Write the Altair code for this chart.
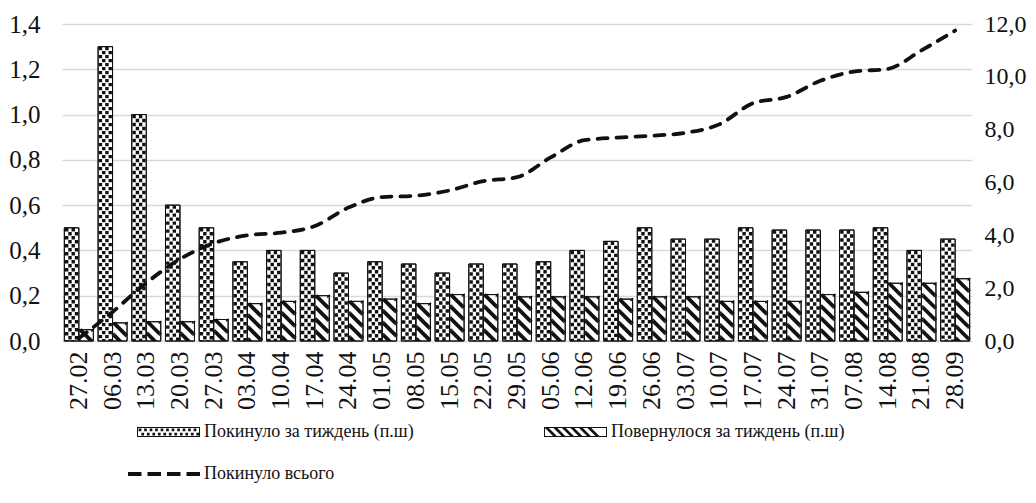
import altair as alt
import pandas as pd

# ---------------- data ----------------
dates = ["27.02", "06.03", "13.03", "20.03", "27.03", "03.04", "10.04", "17.04", "24.04",
         "01.05", "08.05", "15.05", "22.05", "29.05", "05.06", "12.06", "19.06", "26.06",
         "03.07", "10.07", "17.07", "24.07", "31.07", "07.08", "14.08", "21.08", "28.09"]
left_weekly = [0.50, 1.30, 1.00, 0.60, 0.50, 0.35, 0.40, 0.40, 0.30,
               0.35, 0.34, 0.30, 0.34, 0.34, 0.35, 0.40, 0.44, 0.50,
               0.45, 0.45, 0.50, 0.49, 0.49, 0.49, 0.50, 0.40, 0.45]
returned_weekly = [0.05, 0.08, 0.085, 0.085, 0.095, 0.165, 0.175, 0.20, 0.175,
                   0.185, 0.165, 0.205, 0.205, 0.195, 0.195, 0.195, 0.185, 0.195,
                   0.195, 0.175, 0.175, 0.175, 0.205, 0.215, 0.255, 0.255, 0.275]
left_total = [0.1, 1.1, 2.2, 3.1, 3.7, 4.0, 4.1, 4.35, 5.05,
              5.45, 5.5, 5.7, 6.05, 6.2, 6.95, 7.6, 7.7, 7.77,
              7.88, 8.2, 9.0, 9.24, 9.85, 10.2, 10.3, 11.0, 11.75]

S1 = "Покинуло за тиждень (п.ш)"
S2 = "Повернулося за тиждень (п.ш)"
S3 = "Покинуло всього"

left_ticks = [0, 0.2, 0.4, 0.6, 0.8, 1.0, 1.2, 1.4]
right_ticks = [0, 2, 4, 6, 8, 10, 12]

# ---------------- style constants ----------------
PLOT_W, PLOT_H = 910, 317
Y_MAX, Y2_MAX = 1.4, 12
PX = PLOT_H / Y_MAX          # pixels per unit on the left axis
FONT = "Liberation Serif"
INK = "#111111"
X_FS = 26
Y_FS = 25
Y2_FS = 24
LEG_FS = 18

bars_df = pd.DataFrame({
    "date": dates * 2,
    "series": [S1] * len(dates) + [S2] * len(dates),
    "value": left_weekly + returned_weekly,
})
line_df = pd.DataFrame({"date": dates, "total": left_total, "series": S3})
legend_df = pd.DataFrame({"series": [S1, S2, S3], "date": [dates[0]] * 3})


def sq(cx, cy, s, u):
    x0, y0 = (cx - s / 2) / u, (cy - s / 2) / u
    return f"M{x0:.3f},{y0:.3f}h{s/u:.3f}v{s/u:.3f}h{-s/u:.3f}Z"


def poly(pts, u):
    return "M" + "L".join(f"{x/u:.3f},{y/u:.3f}" for x, y in pts) + "Z"


# ---- dotted tile (14 x 8 px) ----
DT_W, DT_H = 14, 8
du = DT_W / 2
dot_path = (sq(-4.9, -2, 3.4, du) + sq(1.6, -2, 3.4, du) +
            sq(-1.6, 2, 3.4, du) + sq(4.9, 2, 3.4, du))
DT = DT_H / PX

# ---- hatch tile (14 x 12 px) ----
HT_W, HT_H = 14, 12
hu = HT_W / 2
segs = []
for k in range(-2, 3):
    c = k * HT_H
    xa = max(-HT_W / 2, -HT_H / 2 - c)
    xb = min(HT_W / 2, HT_H / 2 - c)
    if xb - xa > 0.01:
        segs.append(f"M{xa/hu:.3f},{(xa+c)/hu:.3f}L{xb/hu:.3f},{(xb+c)/hu:.3f}")
hatch_path = "".join(segs)
HT = HT_H / PX

# ---- legend swatches (unit = 10 px, symbolSize 400) ----
LU = 10
L0, R0 = -10, 53
frame = (poly([(L0, -5), (R0, -5), (R0, 5), (L0, 5)], LU) +
         poly([(L0 + 1, -4), (L0 + 1, 4), (R0 - 1, 4), (R0 - 1, -4)], LU))
dots_sw = ""
x = L0 + 3
while x < R0 - 2:
    dots_sw += sq(x, -2.2, 2.7, LU)
    x += 5.5
x = L0 + 5.75
while x < R0 - 2:
    dots_sw += sq(x, 2.2, 2.7, LU)
    x += 5.5
sw1 = frame + dots_sw
hatch_sw = ""
x0 = L0 + 1
while x0 + 11.5 <= R0 - 1:
    hatch_sw += poly([(x0, -4), (x0 + 3.8, -4), (x0 + 11.8, 4), (x0 + 8, 4)], LU)
    x0 += 8.5
sw2 = frame + hatch_sw
sw3 = "".join(poly([(a, -2), (a + 13.5, -2), (a + 13.5, 2), (a, 2)], LU)
              for a in [-19, 0.5, 20, 39.5])

# ---------------- encodings ----------------
x_enc = alt.X("date:N", sort=dates,
              scale=alt.Scale(paddingInner=0.14, paddingOuter=0.07),
              axis=alt.Axis(title=None, labelAngle=-90, labelPadding=10, ticks=False,
                            domain=False, labelFont=FONT, labelFontSize=X_FS,
                            labelColor=INK, labelBaseline="middle", labelAlign="right"))
xoff = alt.XOffset("series:N", scale=alt.Scale(domain=[S1, S2], paddingInner=0, paddingOuter=0))
y_scale = alt.Scale(domain=[0, Y_MAX], nice=False, zero=True)
y_axis = alt.Axis(title=None, values=left_ticks, orient="left", ticks=False, domain=False,
                  grid=True, gridColor="#d9d9d9", gridWidth=1.6,
                  labelExpr="replace(format(datum.value, '.1f'), '.', ',')",
                  labelFont=FONT, labelFontSize=Y_FS, labelColor=INK, labelPadding=22)

bars = alt.Chart(bars_df).mark_bar(fill="white", stroke=INK, strokeWidth=1).encode(
    x=x_enc, xOffset=xoff,
    y=alt.Y("value:Q", scale=y_scale, axis=y_axis),
)

# pattern tiles stacked from the bar top downwards, clipped at the plot bottom
dots = alt.Chart(bars_df).transform_filter(
    alt.datum.series == S1
).transform_calculate(
    k=f"sequence(0, ceil(datum.value / {DT}))"
).transform_flatten(["k"]).transform_calculate(
    yc=f"datum.value - {DT/2} - datum.k * {DT}"
).mark_point(shape=dot_path, size=DT_W ** 2, filled=True, fill=INK,
             strokeWidth=0, opacity=1, clip=True).encode(
    x=alt.X("date:N", sort=dates), xOffset=xoff,
    y=alt.Y("yc:Q", scale=y_scale),
)

hatch = alt.Chart(bars_df).transform_filter(
    alt.datum.series == S2
).transform_calculate(
    k=f"sequence(0, ceil(datum.value / {HT}))"
).transform_flatten(["k"]).transform_calculate(
    yc=f"datum.value - {HT/2} - datum.k * {HT}"
).mark_point(shape=hatch_path, size=HT_W ** 2, filled=False, stroke=INK,
             strokeWidth=3.8, strokeCap="butt", opacity=1, clip=True).encode(
    x=alt.X("date:N", sort=dates), xOffset=xoff,
    y=alt.Y("yc:Q", scale=y_scale),
)

outline = alt.Chart(bars_df).mark_bar(fill=None, fillOpacity=0, stroke=INK, strokeWidth=1).encode(
    x=alt.X("date:N", sort=dates), xOffset=xoff,
    y=alt.Y("value:Q", scale=y_scale),
)

legend_layer = alt.Chart(legend_df).mark_point(
    filled=True, color=INK, opacity=1, size=400, clip=True, strokeWidth=0
).encode(
    x=alt.X("date:N", sort=dates),
    y=alt.value(-300),
    shape=alt.Shape("series:N",
                    scale=alt.Scale(domain=[S1, S2, S3], range=[sw1, sw2, sw3]),
                    legend=alt.Legend(title=None, orient="none", legendX=75, legendY=398,
                                      direction="horizontal", columns=2,
                                      columnPadding=130, rowPadding=23,
                                      symbolSize=400, symbolFillColor=INK,
                                      symbolStrokeWidth=0, symbolOpacity=1,
                                      labelFont=FONT, labelFontSize=LEG_FS, labelColor=INK,
                                      labelOffset=47, labelLimit=500)),
)

left = alt.layer(bars, dots, hatch, outline, legend_layer)

line = alt.Chart(line_df).mark_line(
    color=INK, strokeWidth=3.8, strokeDash=[10, 9], strokeCap="round", interpolate="monotone"
).encode(
    x=alt.X("date:N", sort=dates),
    y=alt.Y("total:Q", scale=alt.Scale(domain=[0, Y2_MAX], nice=False),
            axis=alt.Axis(title=None, orient="right", values=right_ticks, ticks=False,
                          domain=False, grid=False,
                          labelExpr="replace(format(datum.value, '.1f'), '.', ',')",
                          labelFont=FONT, labelFontSize=Y2_FS, labelColor=INK, labelPadding=12)),
)

chart = alt.layer(left, line).resolve_scale(y="independent").properties(
    width=PLOT_W, height=PLOT_H,
    padding={"left": 54, "top": 16, "right": 56, "bottom": 154},
    autosize=alt.AutoSizeParams(type="none"),
    background="white",
).configure(
    font=FONT
).configure_axis(
    labelFont=FONT
).configure_legend(
    labelFont=FONT
).configure_view(stroke=None)

chart.save("out.html", embed_options={"renderer": "svg", "actions": False})
